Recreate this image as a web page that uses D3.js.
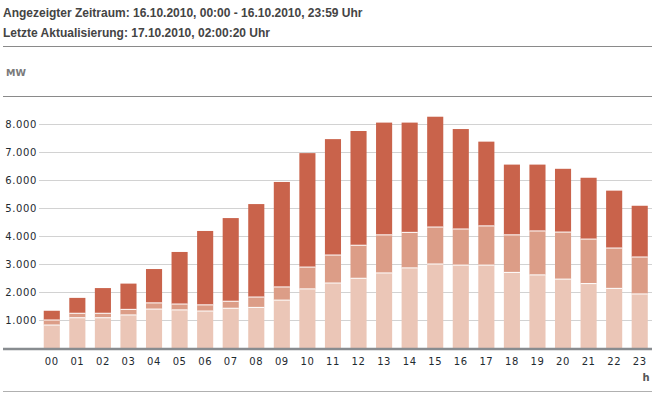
<!DOCTYPE html>
<html><head><meta charset="utf-8">
<script src="https://cdn.jsdelivr.net/npm/d3@7"></script>
<style>body{margin:0;background:#fff}svg{display:block}</style>
</head><body>
<script>
const hours = ["00","01","02","03","04","05","06","07","08","09","10","11","12","13","14","15","16","17","18","19","20","21","22","23"];
const seriesLight = [820,1080,1080,1180,1390,1360,1320,1420,1450,1710,2110,2320,2490,2680,2860,3000,2960,2960,2700,2610,2460,2300,2130,1930];
const seriesMedium = [180,160,160,200,220,210,220,250,370,470,780,1000,1180,1360,1270,1320,1290,1400,1340,1570,1680,1590,1440,1320];
const seriesDark = [330,550,900,920,1210,1860,2640,2970,3320,3750,4070,4140,4080,4010,3920,3940,3570,3010,2510,2370,2260,2190,2050,1830];
const yTicks = [1000,2000,3000,4000,5000,6000,7000,8000];
const titleLines = ["Angezeigter Zeitraum: 16.10.2010, 00:00 - 16.10.2010, 23:59 Uhr","Letzte Aktualisierung: 17.10.2010, 02:00:20 Uhr"];

const W=662,H=393;
const svg=d3.select("body").append("svg").attr("width",W).attr("height",H);

svg.selectAll("text.title").data(titleLines).enter().append("text")
  .attr("x",3).attr("y",(d,i)=>17+i*20)
  .attr("font-family","Liberation Sans, Arial, sans-serif").attr("font-weight","bold")
  .attr("font-size","12px").attr("fill","#444").text(d=>d);
svg.append("line").attr("x1",3).attr("x2",652).attr("y1",46.5).attr("y2",46.5).attr("stroke","#8a8a8a").attr("stroke-width",1);
svg.append("text").attr("x",6).attr("y",76).attr("font-family","DejaVu Sans, Verdana, sans-serif")
  .attr("font-weight","bold").attr("font-size","9.5px").attr("fill","#7a7a7a").text("MW");
svg.append("line").attr("x1",3).attr("x2",652).attr("y1",96.5).attr("y2",96.5).attr("stroke","#8a8a8a").attr("stroke-width",1);

const x=d3.scaleBand().domain(hours).range([39,652.5]).paddingInner(0.37).paddingOuter(0.185);
const y=d3.scaleLinear().domain([0,8000]).range([348,124]);

// grid
svg.append("g").selectAll("line").data(yTicks).enter().append("line")
  .attr("x1",39).attr("x2",652).attr("y1",d=>Math.round(y(d))+0.5).attr("y2",d=>Math.round(y(d))+0.5)
  .attr("stroke","#d2d2d2").attr("stroke-width",1);
// y labels
const yAxis=d3.axisLeft(y).tickValues(yTicks).tickSize(0).tickPadding(0)
  .tickFormat(d=>d3.format(",")(d).replace(/,/g,"."));
const ya=svg.append("g").attr("transform","translate(37,0)").call(yAxis);
ya.select(".domain").remove();
ya.selectAll("text").attr("font-family","DejaVu Sans, Verdana, sans-serif").attr("font-size","10px")
  .attr("fill","#1e2a30").attr("letter-spacing","0.6px");

const data=hours.map((h,i)=>({h,light:seriesLight[i],medium:seriesMedium[i],dark:seriesDark[i]}));
const stack=d3.stack().keys(["light","medium","dark"])(data);
const colors={light:"#ebc6b7",medium:"#dc9d87",dark:"#c9634b"};
svg.append("g").selectAll("g").data(stack).enter().append("g").attr("fill",d=>colors[d.key])
  .selectAll("rect").data(d=>d).enter().append("rect")
  .attr("x",d=>x(d.data.h)).attr("width",x.bandwidth())
  .attr("y",d=>y(d[1])).attr("height",d=>y(d[0])-y(d[1]));
// white separators
svg.append("g").selectAll("g").data(stack.slice(0,2)).enter().append("g")
  .selectAll("line").data(d=>d).enter().append("line")
  .attr("x1",d=>x(d.data.h)).attr("x2",d=>x(d.data.h)+x.bandwidth())
  .attr("y1",d=>y(d[1])).attr("y2",d=>y(d[1])).attr("stroke","#fff").attr("stroke-width",1);

// baseline
svg.append("line").attr("x1",3).attr("x2",652).attr("y1",349).attr("y2",349).attr("stroke","#888c90").attr("stroke-width",2.5);

// x labels
const xAxis=d3.axisBottom(x).tickSize(0).tickPadding(0);
const xa=svg.append("g").attr("transform","translate(0,358)").call(xAxis);
xa.select(".domain").remove();
xa.selectAll("text").attr("font-family","DejaVu Sans, Verdana, sans-serif").attr("font-size","10px")
  .attr("fill","#1e2a30").attr("dy","0.71em").attr("letter-spacing","0.6px");
svg.append("text").attr("x",646).attr("y",381).attr("text-anchor","middle")
  .attr("font-family","DejaVu Sans, Verdana, sans-serif").attr("font-weight","bold").attr("font-size","10px")
  .attr("fill","#555").text("h");
svg.append("line").attr("x1",3).attr("x2",652).attr("y1",391.5).attr("y2",391.5).attr("stroke","#b0b0b0").attr("stroke-width",1);
</script>
</body></html>
